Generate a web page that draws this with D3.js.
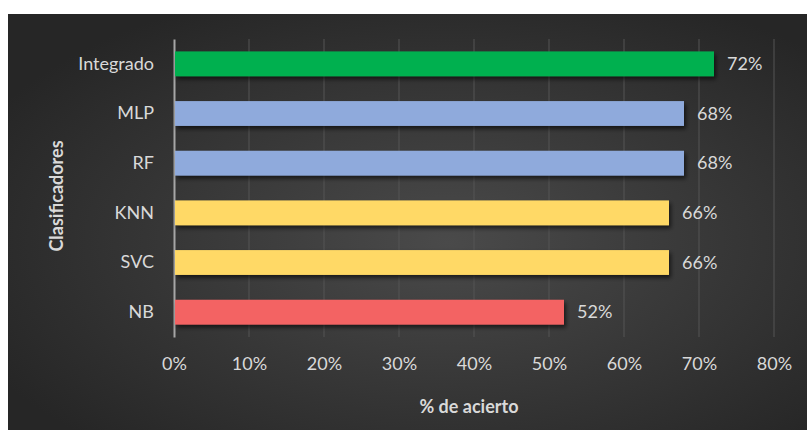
<!DOCTYPE html>
<html>
<head>
<meta charset="utf-8">
<script src="https://cdn.jsdelivr.net/npm/d3@7"></script>
<style>
  html, body { margin: 0; padding: 0; background: #ffffff; }
  svg { display: block; }
</style>
</head>
<body>
<svg id="chart" width="807" height="430"></svg>
<script>
// Chart data
const categories = ["Integrado", "MLP", "RF", "KNN", "SVC", "NB"];
const accuracy = [0.72, 0.68, 0.68, 0.66, 0.66, 0.52];
const barColors = ["#00b050", "#8faadc", "#8faadc", "#ffd966", "#ffd966", "#f36363"];
const xTicks = [0, 0.1, 0.2, 0.3, 0.4, 0.5, 0.6, 0.7, 0.8];

const W = 807, H = 430;
const margin = { top: 39, right: 33, bottom: 93, left: 174 };
const width = W - margin.left - margin.right;
const height = H - margin.top - margin.bottom;
const font = "Lato, 'Open Sans', sans-serif";

const svg = d3.select("#chart");

// Background with radial gradient
const defs = svg.append("defs");
const grad = defs.append("radialGradient")
  .attr("id", "bg")
  .attr("cx", "55%").attr("cy", "55%").attr("r", "65%");
grad.append("stop").attr("offset", "0%").attr("stop-color", "#4a4a4a");
grad.append("stop").attr("offset", "100%").attr("stop-color", "#262626");

const shadow = defs.append("filter").attr("id", "shadow")
  .attr("x", "-5%").attr("y", "-30%").attr("width", "110%").attr("height", "170%");
shadow.append("feDropShadow")
  .attr("dx", 2).attr("dy", 3).attr("stdDeviation", 2)
  .attr("flood-color", "#000").attr("flood-opacity", 0.6);

svg.append("rect")
  .attr("x", 8).attr("y", 14)
  .attr("width", W - 8).attr("height", H - 14)
  .attr("fill", "url(#bg)");

const g = svg.append("g")
  .attr("transform", `translate(${margin.left}, ${margin.top})`);

// Scales
const xScale = d3.scaleLinear().domain([0, 0.8]).range([0, width]);
const yScale = d3.scaleBand().domain(categories).range([0, height])
  .paddingInner(0.5).paddingOuter(0.25);

// Gridlines
g.append("g")
  .selectAll("line")
  .data(xTicks.slice(1))
  .enter()
  .append("line")
  .attr("x1", d => xScale(d)).attr("x2", d => xScale(d))
  .attr("y1", 0).attr("y2", height)
  .attr("stroke", "#555555")
  .attr("stroke-width", 1);

// X axis (labels only)
const xAxis = g.append("g")
  .attr("transform", `translate(0, ${height})`)
  .call(d3.axisBottom(xScale).tickValues(xTicks).tickFormat(d3.format(".0%")).tickSize(0).tickPadding(20));
xAxis.select(".domain").remove();
xAxis.selectAll("text")
  .attr("fill", "#d9d9d9")
  .attr("font-family", font)
  .attr("font-size", "18px");

// Y axis
const yAxis = g.append("g")
  .call(d3.axisLeft(yScale).tickSize(0).tickPadding(20));
yAxis.select(".domain")
  .attr("stroke", "#a6a6a6")
  .attr("stroke-width", 2);
yAxis.selectAll("text")
  .attr("fill", "#d9d9d9")
  .attr("font-family", font)
  .attr("font-size", "18px");

// Bars
const data = categories.map((c, i) => ({ name: c, value: accuracy[i], color: barColors[i] }));

g.selectAll("rect.bar")
  .data(data)
  .enter()
  .append("rect")
  .attr("class", "bar")
  .attr("x", 1)
  .attr("y", d => yScale(d.name))
  .attr("width", d => xScale(d.value) - 1)
  .attr("height", yScale.bandwidth())
  .attr("fill", d => d.color)
  .attr("filter", "url(#shadow)");

// Value labels
g.selectAll("text.label")
  .data(data)
  .enter()
  .append("text")
  .attr("class", "label")
  .attr("x", d => xScale(d.value) + 13)
  .attr("y", d => yScale(d.name) + yScale.bandwidth() / 2)
  .attr("dy", "0.35em")
  .attr("fill", "#d9d9d9")
  .attr("font-family", font)
  .attr("font-size", "18px")
  .text(d => d3.format(".0%")(d.value));

// X axis title
g.append("text")
  .attr("x", xScale(0.4) - 5)
  .attr("y", height + 76)
  .attr("text-anchor", "middle")
  .attr("fill", "#d9d9d9")
  .attr("font-family", font)
  .attr("font-size", "18px")
  .style("font-weight", "bold")
  .text("% de acierto");

// Y axis title
g.append("text")
  .attr("transform", "rotate(-90)")
  .attr("x", -157)
  .attr("y", -margin.left + 63)
  .attr("text-anchor", "middle")
  .attr("fill", "#d9d9d9")
  .attr("font-family", font)
  .attr("font-size", "18px")
  .style("font-weight", "bold")
  .text("Clasificadores");
</script>
</body>
</html>
